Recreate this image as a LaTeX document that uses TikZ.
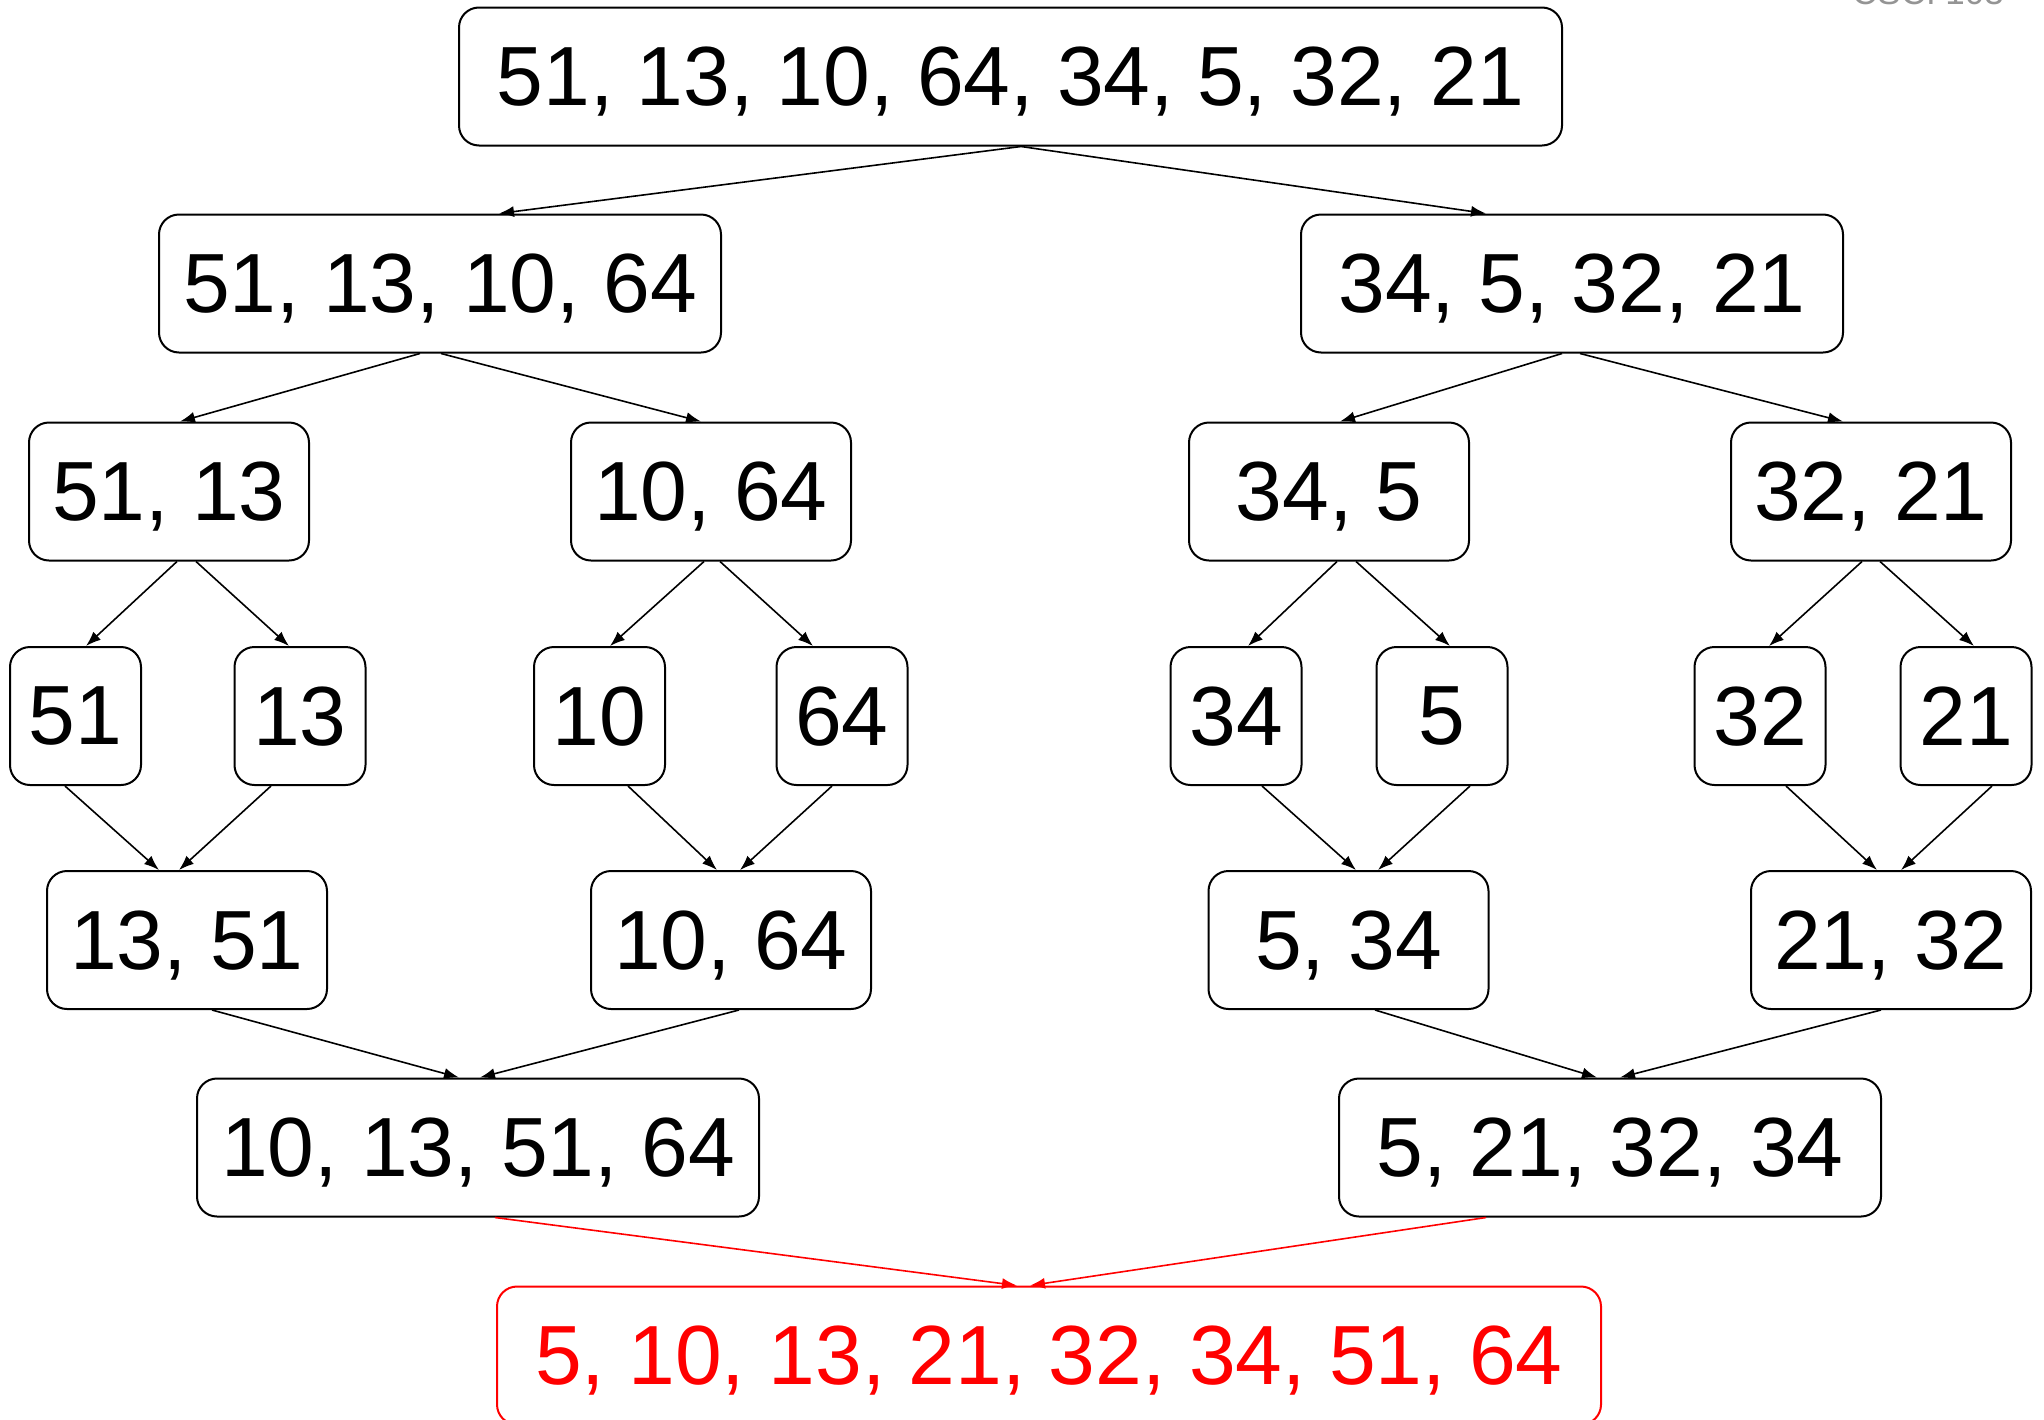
\documentclass[tikz,border=0pt]{standalone}
\usepackage{fontspec}
\setmainfont{Liberation Sans}
\usetikzlibrary{arrows.meta}
\begin{document}
\begin{tikzpicture}[x=1pt,y=-1pt,
  box/.style={draw=black, line width=2pt, rounded corners=20pt, inner sep=0pt,
    text depth=0pt, font=\fontsize{84}{90}\selectfont, minimum height=138pt},
  wide/.style={box, minimum width=#1},
  pair/.style={box, minimum width=280pt},
  single/.style={box, minimum width=131pt},
  redbox/.style={box, draw=red, text=red},
  conn/.style={line width=1.6pt, -{Latex[length=15pt,width=11pt]}},
  redconn/.style={conn, color=red},
  hdr/.style={font=\fontsize{35}{40}\selectfont, text=black!42, anchor=base, inner sep=0pt}
]
\useasboundingbox (0,0) rectangle (2044,1419);
\clip (0,0) rectangle (2044,1419);

\node[hdr] (title) at (1928,4) {CSCI 103};

% row 1
\node[wide=1103pt] (n0) at (1010.5,76.5) {51, 13, 10, 64, 34, 5, 32, 21};
% row 2
\node[wide=562pt] (l) at (440,283.5) {51, 13, 10, 64};
\node[wide=542pt] (r) at (1572,283.5) {34, 5, 32, 21};
% row 3
\node[pair] (ll) at (169,491.5) {51, 13};
\node[pair] (lr) at (711,491.5) {10, 64};
\node[pair] (rl) at (1329,491.5) {34, 5};
\node[pair] (rr) at (1871,491.5) {32, 21};
% row 4
\node[single] (a1) at (75.5,716) {51};
\node[single] (a2) at (300,716) {13};
\node[single] (a3) at (599.5,716) {10};
\node[single] (a4) at (842,716) {64};
\node[single] (a5) at (1236,716) {34};
\node[single] (a6) at (1442,716) {5};
\node[single] (a7) at (1760,716) {32};
\node[single] (a8) at (1966,716) {21};
% row 5
\node[pair] (m1) at (187,940) {13, 51};
\node[pair] (m2) at (731,940) {10, 64};
\node[pair] (m3) at (1348.5,940) {5, 34};
\node[pair] (m4) at (1891,940) {21, 32};
% row 6
\node[wide=562pt] (ml) at (478,1147.5) {10, 13, 51, 64};
\node[wide=542pt] (mr) at (1610,1147.5) {5, 21, 32, 34};
% row 7
\node[redbox, minimum width=1104pt] (fin) at (1049,1355.5) {5, 10, 13, 21, 32, 34, 51, 64};

% split arrows
\draw[conn] ([xshift=10.5pt]n0.south) -- ([xshift=59pt]l.north);
\draw[conn] ([xshift=10.5pt]n0.south) -- ([xshift=-86pt]r.north);

\draw[conn] ([xshift=-20pt]l.south) -- ([xshift=11pt]ll.north);
\draw[conn] ([xshift=1pt]l.south) -- ([xshift=-10pt]lr.north);
\draw[conn] ([xshift=-10pt]r.south) -- ([xshift=11pt]rl.north);
\draw[conn] ([xshift=8pt]r.south) -- ([xshift=-28pt]rr.north);

\draw[conn] ([xshift=8pt]ll.south) -- ([xshift=10.5pt]a1.north);
\draw[conn] ([xshift=27pt]ll.south) -- ([xshift=-11pt]a2.north);
\draw[conn] ([xshift=-7pt]lr.south) -- ([xshift=10.5pt]a3.north);
\draw[conn] ([xshift=9pt]lr.south) -- ([xshift=-29pt]a4.north);
\draw[conn] ([xshift=8pt]rl.south) -- ([xshift=12pt]a5.north);
\draw[conn] ([xshift=27pt]rl.south) -- ([xshift=8pt]a6.north);
\draw[conn] ([xshift=-9pt]rr.south) -- ([xshift=9pt]a7.north);
\draw[conn] ([xshift=9pt]rr.south) -- ([xshift=8pt]a8.north);

% merge arrows
\draw[conn] ([xshift=-10.5pt]a1.south) -- ([xshift=-28pt]m1.north);
\draw[conn] ([xshift=-29pt]a2.south) -- ([xshift=-8pt]m1.north);
\draw[conn] ([xshift=28.5pt]a3.south) -- ([xshift=-14pt]m2.north);
\draw[conn] ([xshift=-10pt]a4.south) -- ([xshift=9pt]m2.north);
\draw[conn] ([xshift=26pt]a5.south) -- ([xshift=7.5pt]m3.north);
\draw[conn] ([xshift=28pt]a6.south) -- ([xshift=29.5pt]m3.north);
\draw[conn] ([xshift=26pt]a7.south) -- ([xshift=-14pt]m4.north);
\draw[conn] ([xshift=26pt]a8.south) -- ([xshift=10pt]m4.north);

\draw[conn] ([xshift=25pt]m1.south) -- ([xshift=-19pt]ml.north);
\draw[conn] ([xshift=8pt]m2.south) -- ([xshift=2pt]ml.north);
\draw[conn] ([xshift=26.5pt]m3.south) -- ([xshift=-13pt]mr.north);
\draw[conn] ([xshift=-10pt]m4.south) -- ([xshift=10pt]mr.north);

\draw[redconn] ([xshift=17pt]ml.south) -- ([xshift=-32pt]fin.north);
\draw[redconn] ([xshift=-124pt]mr.south) -- ([xshift=-19pt]fin.north);
\end{tikzpicture}
\end{document}
